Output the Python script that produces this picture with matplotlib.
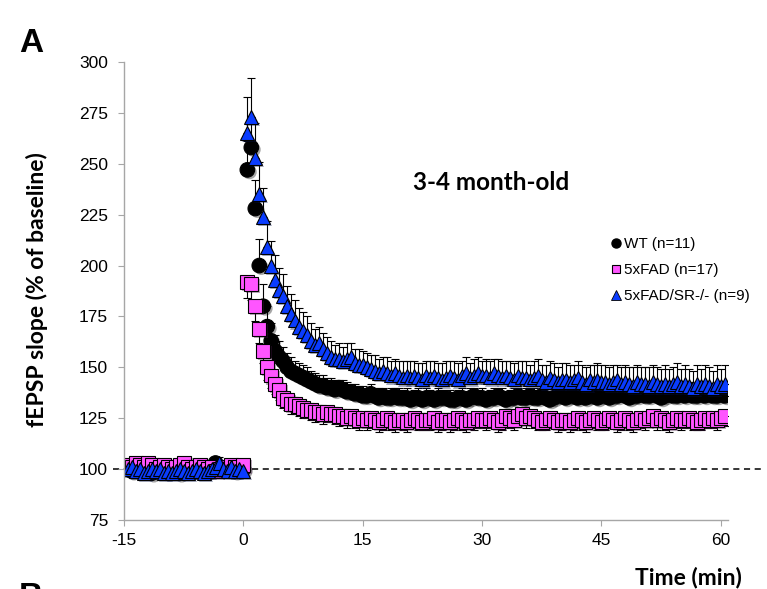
import numpy as np
import matplotlib
matplotlib.use("Agg")
import matplotlib.pyplot as plt
import matplotlib.patheffects as pe
from matplotlib.lines import Line2D

plt.rcParams['font.family'] = ['Liberation Sans', 'DejaVu Sans']
plt.rcParams['axes.unicode_minus'] = False

# sampling times (min): baseline then post-HFS, every 30 s
t_base = np.arange(-14.5, 0.01, 0.5)
t_post = np.arange(0.5, 60.51, 0.5)
time = np.concatenate([t_base, t_post])

labels = ['WT (n=11)', '5xFAD (n=17)', '5xFAD/SR-/- (n=9)']

# WT (% of baseline)
wt_base = [100, 99, 100, 101, 99, 100, 98, 99, 100, 99,
           101, 100, 99, 98, 99, 100, 99, 100, 101, 100,
           99, 100, 103, 101, 100, 101, 100, 99, 100, 100]
wt_post = [247, 258, 228, 200, 180, 170, 163, 158, 155, 153,
           150, 148, 147, 146, 145, 144, 143, 142, 141, 141,
           140, 140, 139, 140, 139, 138, 138, 137, 137, 136,
           136, 137, 136, 135, 136, 135, 135, 136, 135, 135,
           135, 134, 135, 135, 134, 135, 135, 134, 135, 135,
           135, 134, 134, 135, 135, 134, 135, 136, 135, 135,
           134, 135, 135, 136, 135, 134, 135, 135, 136, 135,
           135, 136, 135, 135, 136, 135, 134, 135, 136, 136,
           135, 136, 136, 135, 136, 135, 136, 136, 135, 136,
           136, 135, 136, 136, 137, 136, 135, 136, 136, 137,
           136, 136, 137, 136, 135, 136, 137, 136, 136, 137,
           136, 137, 136, 136, 137, 136, 137, 136, 136, 137, 136]
wt_base_err = [2, 2, 1, 2, 2, 1, 2, 2, 2, 1,
               2, 1, 2, 2, 1, 2, 2, 1, 2, 2,
               1, 2, 2, 2, 1, 2, 2, 1, 2, 2]
wt_post_err = [14, 15, 14, 13, 11, 10, 9, 8, 8, 7,
               7, 7, 6, 6, 6, 6, 5, 5, 5, 5,
               5, 5, 5, 4, 5, 5, 4, 5, 4, 5,
               4, 5, 4, 5, 4, 4, 5, 4, 5, 4,
               5, 4, 4, 5, 4, 5, 4, 4, 5, 4,
               4, 5, 4, 4, 5, 4, 5, 4, 4, 5,
               4, 4, 5, 4, 5, 4, 4, 5, 4, 4,
               5, 4, 5, 4, 4, 5, 4, 5, 4, 5,
               4, 5, 4, 5, 5, 4, 5, 4, 5, 4,
               5, 4, 5, 5, 4, 5, 5, 4, 5, 5,
               5, 5, 4, 5, 5, 6, 5, 5, 4, 5,
               5, 6, 5, 5, 6, 5, 5, 6, 5, 5, 6]

# 5xFAD
fad_base = [102, 101, 103, 102, 101, 103, 102, 100, 101, 102,
            101, 100, 101, 102, 103, 101, 100, 101, 102, 101,
            100, 101, 99, 100, 101, 100, 102, 101, 101, 102]
fad_post = [192, 191, 180, 169, 158, 150, 146, 142, 139, 135,
            134, 132, 132, 131, 130, 129, 129, 128, 128, 127,
            128, 127, 127, 126, 126, 125, 126, 125, 124, 125,
            124, 125, 124, 123, 124, 125, 124, 123, 124, 124,
            123, 124, 125, 124, 123, 124, 124, 125, 123, 124,
            124, 123, 124, 125, 124, 123, 124, 124, 125, 124,
            124, 125, 124, 123, 124, 126, 125, 124, 126, 127,
            125, 126, 125, 124, 123, 124, 125, 124, 123, 124,
            124, 123, 124, 125, 124, 123, 124, 125, 124, 123,
            124, 125, 124, 123, 124, 125, 124, 123, 124, 125,
            124, 125, 126, 124, 125, 124, 123, 124, 125, 124,
            124, 125, 124, 123, 124, 125, 124, 125, 124, 125, 126]
fad_base_err = [2, 1, 2, 2, 1, 2, 2, 1, 2, 2,
                1, 2, 2, 1, 2, 2, 2, 1, 2, 2,
                1, 2, 2, 1, 2, 2, 1, 2, 2, 1]
fad_post_err = [8, 8, 7, 7, 6, 6, 6, 5, 5, 5,
                5, 5, 5, 5, 5, 4, 5, 5, 4, 5,
                5, 4, 5, 5, 4, 5, 4, 5, 5, 4,
                5, 5, 4, 5, 5, 4, 5, 5, 4, 5,
                5, 4, 5, 5, 4, 5, 5, 4, 5, 5,
                4, 5, 5, 4, 5, 5, 4, 5, 5, 4,
                5, 5, 4, 5, 5, 4, 5, 5, 4, 5,
                5, 4, 5, 5, 4, 5, 5, 4, 5, 5,
                4, 5, 5, 4, 5, 5, 4, 5, 5, 4,
                5, 5, 4, 5, 5, 4, 5, 5, 4, 5,
                5, 4, 5, 5, 4, 5, 5, 4, 5, 5,
                4, 5, 5, 4, 5, 5, 4, 5, 5, 4, 5]

# 5xFAD/SR-/-
sr_base = [100, 101, 99, 100, 98, 99, 100, 99, 100, 98,
           99, 98, 99, 100, 99, 98, 99, 100, 99, 98,
           99, 100, 101, 103, 100, 99, 101, 99, 100, 99]
sr_post = [265, 273, 253, 235, 224, 209, 200, 193, 188, 185,
           180, 176, 173, 170, 168, 166, 163, 161, 162, 159,
           157, 155, 154, 154, 153, 154, 155, 152, 151, 151,
           150, 149, 148, 147, 148, 147, 146, 147, 146, 145,
           146, 145, 146, 145, 144, 146, 145, 146, 145, 144,
           145, 146, 145, 144, 146, 147, 145, 146, 147, 146,
           146, 145, 147, 146, 145, 146, 145, 144, 146, 145,
           145, 144, 145, 146, 144, 143, 145, 144, 143, 144,
           144, 143, 144, 145, 143, 142, 144, 143, 144, 143,
           143, 142, 143, 144, 142, 143, 142, 141, 143, 142,
           142, 141, 143, 142, 141, 142, 141, 142, 143, 141,
           142, 141, 140, 142, 141, 142, 141, 140, 142, 141, 142]
sr_base_err = [2, 2, 1, 2, 2, 2, 1, 2, 2, 1,
               2, 2, 1, 2, 2, 2, 1, 2, 2, 1,
               2, 2, 2, 3, 2, 1, 2, 2, 1, 2]
sr_post_err = [18, 19, 17, 16, 14, 13, 12, 12, 11, 11,
               10, 10, 10, 9, 9, 9, 9, 8, 8, 8,
               8, 8, 7, 8, 7, 8, 7, 7, 8, 7,
               7, 7, 8, 7, 7, 8, 7, 7, 7, 8,
               7, 8, 7, 7, 8, 7, 8, 7, 7, 8,
               8, 7, 8, 8, 7, 8, 7, 8, 8, 7,
               8, 8, 7, 8, 8, 7, 8, 8, 7, 8,
               8, 7, 8, 8, 7, 8, 8, 8, 7, 8,
               8, 8, 7, 8, 8, 8, 7, 8, 8, 8,
               8, 8, 8, 7, 8, 8, 8, 9, 8, 8,
               8, 9, 8, 8, 8, 9, 8, 8, 9, 8,
               9, 8, 8, 9, 8, 9, 9, 8, 9, 8, 9]

wt = np.array(wt_base + wt_post)
wt_err = np.array(wt_base_err + wt_post_err)
fad = np.array(fad_base + fad_post)
fad_err = np.array(fad_base_err + fad_post_err)
sr = np.array(sr_base + sr_post)
sr_err = np.array(sr_base_err + sr_post_err)
zero = np.zeros(len(time))

W, H = 767, 589
fig = plt.figure(figsize=(W / 100, H / 100), dpi=100)
ax = fig.add_axes([124 / W, 1 - 520 / H, 604 / W, 458 / H])

shadow = [pe.SimplePatchShadow(offset=(1.5, -1.5), alpha=0.35), pe.Normal()]
ebkw = dict(ls='none', ecolor='black', elinewidth=0.8, capsize=3, capthick=0.8,
            mec='black', mew=0.8)

# black below, pink over it, blue on top (as in the original)
l1 = ax.errorbar(time, wt, yerr=[zero, wt_err], fmt='o', ms=10.5, mfc='black', **ebkw)
l2 = ax.errorbar(time, fad, yerr=[fad_err, zero], fmt='s', ms=10, mfc='#ff55ff', **ebkw)
l3 = ax.errorbar(time, sr, yerr=[zero, sr_err], fmt='^', ms=10, mfc='#0a3cff', **ebkw)
for c in (l1, l2, l3):
    c[0].set_path_effects(shadow)

# dashed 100 % line, runs a little past the axis on both sides
ax.axhline(100, xmin=-0.018, xmax=1.06, color='black', lw=1.1, ls=(0, (4, 3)),
           clip_on=False, zorder=0.5)

ax.set_xlim(-15, 60.9)
ax.set_ylim(75, 300)
ax.set_xticks([-15, 0, 15, 30, 45, 60])
ax.set_yticks(np.arange(75, 301, 25))
for s in ('top', 'right'):
    ax.spines[s].set_visible(False)
for s in ('left', 'bottom'):
    ax.spines[s].set_color('#a6a6a6')
    ax.spines[s].set_linewidth(1.0)
ax.tick_params(axis='both', colors='#a6a6a6', labelcolor='black', labelsize=12.5,
               length=4.5, width=0.8)
ax.tick_params(axis='y', pad=7)
ax.tick_params(axis='x', pad=5)

bold = dict(family=['Lato', 'DejaVu Sans'], weight='bold')
fig.text(37 / W, 1 - 290 / H, 'fEPSP slope (% of baseline)', rotation=90,
         ha='center', va='center', fontsize=16.5, **bold)
fig.text(688 / W, 1 - 577 / H, 'Time (min)', ha='center', va='center', fontsize=16.5, **bold)
fig.text(491 / W, 1 - 183 / H, '3-4 month-old', ha='center', va='center', fontsize=17.5, **bold)
fig.text(31 / W, 1 - 44 / H, 'A', ha='center', va='center', fontsize=24, weight='bold')
fig.text(31 / W, 1 - 582 / H, 'B', ha='center', va='top', fontsize=24, weight='bold')

handles = [Line2D([], [], ls='none', marker='o', ms=6.5, mfc='black', mec='black'),
           Line2D([], [], ls='none', marker='s', ms=6, mfc='#ff55ff', mec='black', mew=0.8),
           Line2D([], [], ls='none', marker='^', ms=6.5, mfc='#0a3cff', mec='black', mew=0.6)]
fig.legend(handles, labels, loc='center left', bbox_to_anchor=(612 / W, 1 - 270 / H),
           frameon=False, handlelength=0.5, handletextpad=0.3, labelspacing=0.78,
           borderpad=0, borderaxespad=0, fontsize=11)

fig.savefig('out.png', dpi=100)
